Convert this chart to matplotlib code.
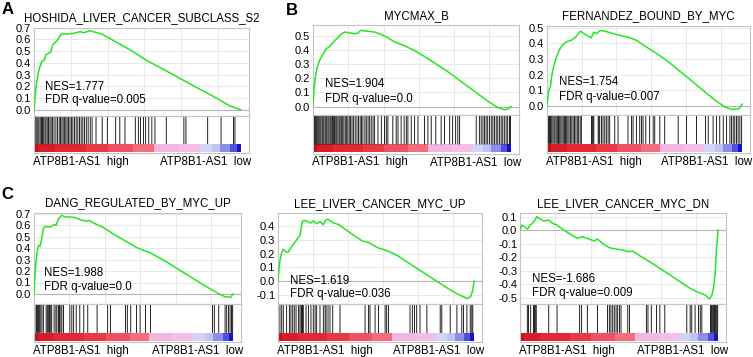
import matplotlib
matplotlib.use("Agg")
import matplotlib.pyplot as plt

plt.rcParams['font.family'] = ['Liberation Sans', 'DejaVu Sans']

# ---- data (x = fraction of ranked gene list) ----
hoshida_x = [0, 0.005, 0.013, 0.024, 0.037, 0.048, 0.058, 0.069, 0.081, 0.09, 0.10, 0.113,
             0.126, 0.134, 0.158, 0.19, 0.223, 0.239, 0.271, 0.295, 0.327, 0.384, 0.465,
             0.545, 0.626, 0.706, 0.787, 0.868, 0.948, 1.0]
hoshida_es = [0, 0.11, 0.24, 0.34, 0.41, 0.42, 0.47, 0.48, 0.49, 0.55, 0.57, 0.59,
              0.63, 0.645, 0.645, 0.65, 0.665, 0.655, 0.673, 0.66, 0.645, 0.59, 0.51,
              0.42, 0.345, 0.268, 0.19, 0.115, 0.034, 0.0]
hoshida_hits = [0.004, 0.009, 0.014, 0.019, 0.024, 0.03, 0.036, 0.041, 0.047, 0.053, 0.058,
                0.064, 0.07, 0.077, 0.083, 0.09, 0.097, 0.106, 0.114, 0.122, 0.128, 0.135,
                0.141, 0.147, 0.154, 0.16, 0.167, 0.174, 0.181, 0.188, 0.196, 0.204, 0.212,
                0.22, 0.228, 0.236, 0.244, 0.253, 0.262, 0.272, 0.281, 0.30, 0.33, 0.355,
                0.395, 0.415, 0.44, 0.49, 0.505, 0.515, 0.53, 0.54, 0.555, 0.57, 0.585,
                0.64, 0.725, 0.735, 0.84, 0.905, 0.965, 0.972]

mycmax_x = [0, 0.005, 0.012, 0.022, 0.034, 0.05, 0.067, 0.079, 0.092, 0.109, 0.126, 0.143,
            0.16, 0.185, 0.21, 0.227, 0.24, 0.269, 0.311, 0.345, 0.378, 0.412, 0.462, 0.513,
            0.563, 0.613, 0.681, 0.748, 0.815, 0.882, 0.933, 0.966, 0.983, 1.0]
mycmax_es = [0, 0.12, 0.21, 0.28, 0.33, 0.37, 0.41, 0.42, 0.44, 0.465, 0.49, 0.515,
             0.528, 0.523, 0.516, 0.52, 0.54, 0.535, 0.528, 0.51, 0.488, 0.458, 0.431, 0.396,
             0.355, 0.309, 0.247, 0.177, 0.108, 0.039, -0.007, -0.023, -0.018, 0.0]
mycmax_hits = [0.003, 0.008, 0.012, 0.017, 0.021, 0.026, 0.03, 0.035, 0.04, 0.046, 0.05,
               0.055, 0.061, 0.066, 0.07, 0.076, 0.081, 0.087, 0.092, 0.098, 0.103, 0.109,
               0.115, 0.12, 0.126, 0.132, 0.137, 0.143, 0.15, 0.156, 0.163, 0.17, 0.176,
               0.183, 0.19, 0.197, 0.205, 0.213, 0.222, 0.23, 0.238, 0.245, 0.252, 0.262,
               0.269, 0.278, 0.286, 0.294, 0.303, 0.311, 0.328, 0.345, 0.361, 0.37, 0.378,
               0.403, 0.42, 0.429, 0.445, 0.46, 0.471, 0.479, 0.496, 0.513, 0.53, 0.563,
               0.58, 0.597, 0.62, 0.647, 0.664, 0.69, 0.705, 0.72, 0.731, 0.74, 0.824, 0.84,
               0.849, 0.858, 0.866, 0.874, 0.882, 0.891, 0.9, 0.908, 0.916, 0.925, 0.933,
               0.942, 0.95, 0.958, 0.966, 0.975, 0.983, 0.992, 0.997]

fernandez_x = [0, 0.005, 0.01, 0.017, 0.024, 0.034, 0.048, 0.062, 0.079, 0.099, 0.125, 0.15,
               0.171, 0.185, 0.205, 0.227, 0.239, 0.256, 0.27, 0.296, 0.33, 0.373, 0.415,
               0.458, 0.509, 0.561, 0.612, 0.663, 0.715, 0.766, 0.817, 0.868, 0.911, 0.945,
               0.98, 0.991, 1.0]
fernandez_es = [0, 0.06, 0.10, 0.12, 0.19, 0.25, 0.31, 0.356, 0.388, 0.41, 0.42, 0.445,
                0.479, 0.466, 0.451, 0.436, 0.472, 0.462, 0.483, 0.479, 0.466, 0.451, 0.44,
                0.42, 0.377, 0.335, 0.292, 0.239, 0.186, 0.133, 0.08, 0.028, -0.008, -0.025,
                -0.021, -0.008, 0.01]
fernandez_hits = [0.003, 0.008, 0.013, 0.018, 0.024, 0.03, 0.036, 0.041, 0.047, 0.053, 0.059,
                  0.065, 0.071, 0.077, 0.083, 0.089, 0.095, 0.101, 0.107, 0.113, 0.12, 0.127,
                  0.134, 0.141, 0.148, 0.155, 0.162, 0.17, 0.176, 0.228, 0.232, 0.236, 0.24,
                  0.262, 0.266, 0.27, 0.279, 0.287, 0.296, 0.304, 0.313, 0.321, 0.347, 0.364,
                  0.415, 0.433, 0.441, 0.458, 0.475, 0.484, 0.492, 0.506, 0.526, 0.544,
                  0.552, 0.578, 0.603, 0.672, 0.715, 0.766, 0.812, 0.826, 0.851, 0.868,
                  0.885, 0.903, 0.92, 0.937, 0.945, 0.954, 0.962, 0.971, 0.979, 0.988, 0.997]

dang_x = [0, 0.003, 0.008, 0.017, 0.022, 0.03, 0.039, 0.047, 0.056, 0.073, 0.089, 0.101,
          0.111, 0.123, 0.14, 0.157, 0.182, 0.207, 0.233, 0.258, 0.275, 0.3, 0.351, 0.401,
          0.46, 0.519, 0.587, 0.654, 0.722, 0.789, 0.857, 0.924, 0.958, 0.988, 1.0]
dang_es = [0, 0.117, 0.248, 0.379, 0.423, 0.414, 0.481, 0.569, 0.589, 0.583, 0.589, 0.606,
           0.598, 0.656, 0.685, 0.671, 0.671, 0.665, 0.647, 0.636, 0.641, 0.618, 0.577, 0.519,
           0.461, 0.402, 0.356, 0.292, 0.219, 0.146, 0.073, 0.006, -0.023, -0.029, 0.0]
dang_hits = [0.005, 0.013, 0.018, 0.022, 0.027, 0.034, 0.04, 0.047, 0.061, 0.067, 0.072,
             0.078, 0.084, 0.089, 0.101, 0.11, 0.115, 0.123, 0.128, 0.135, 0.14, 0.148, 0.18,
             0.19, 0.199, 0.212, 0.23, 0.25, 0.27, 0.317, 0.37, 0.384, 0.46, 0.469, 0.486,
             0.515, 0.533, 0.56, 0.585, 0.897, 0.906, 0.928, 0.96, 0.968, 0.977, 0.985,
             0.992, 0.998]

leeup_x = [0, 0.005, 0.01, 0.017, 0.027, 0.039, 0.051, 0.061, 0.073, 0.085, 0.099, 0.112,
           0.124, 0.136, 0.15, 0.167, 0.18, 0.197, 0.214, 0.231, 0.243, 0.255, 0.277, 0.311,
           0.345, 0.388, 0.43, 0.464, 0.507, 0.558, 0.609, 0.66, 0.711, 0.762, 0.813, 0.864,
           0.906, 0.94, 0.966, 0.983, 0.993, 1.0]
leeup_es = [0, 0.09, 0.15, 0.198, 0.233, 0.214, 0.21, 0.233, 0.257, 0.281, 0.31, 0.333,
            0.436, 0.443, 0.436, 0.424, 0.44, 0.419, 0.436, 0.412, 0.448, 0.452, 0.429, 0.412,
            0.376, 0.333, 0.293, 0.281, 0.245, 0.221, 0.186, 0.138, 0.09, 0.043, -0.005,
            -0.052, -0.088, -0.112, -0.129, -0.112, -0.064, 0.0]
leeup_hits = [0.01, 0.019, 0.027, 0.044, 0.058, 0.066, 0.075, 0.083, 0.092, 0.104, 0.112,
              0.118, 0.121, 0.125, 0.129, 0.143, 0.155, 0.168, 0.18, 0.189, 0.197, 0.214,
              0.231, 0.24, 0.245, 0.255, 0.265, 0.279, 0.316, 0.444, 0.461, 0.469, 0.495,
              0.512, 0.546, 0.554, 0.563, 0.673, 0.685, 0.696, 0.707, 0.724, 0.759, 0.827,
              0.835, 0.878, 0.912, 0.937, 0.946, 0.963, 0.98, 0.988, 0.993]

leedn_x = [0, 0.009, 0.022, 0.039, 0.051, 0.063, 0.073, 0.085, 0.097, 0.119, 0.145, 0.165,
           0.187, 0.221, 0.255, 0.289, 0.315, 0.34, 0.374, 0.391, 0.417, 0.451, 0.485, 0.519,
           0.544, 0.57, 0.604, 0.655, 0.706, 0.757, 0.808, 0.859, 0.901, 0.935, 0.957, 0.969,
           0.978, 0.986, 0.991, 1.0]
leedn_es = [0, 0.037, 0.025, 0.007, 0.037, 0.049, 0.067, 0.099, 0.086, 0.067, 0.074, 0.049,
            0.037, 0.0, -0.032, -0.062, -0.049, -0.062, -0.081, -0.067, -0.099, -0.131, -0.141,
            -0.148, -0.16, -0.156, -0.19, -0.235, -0.284, -0.333, -0.383, -0.432, -0.462,
            -0.481, -0.511, -0.481, -0.42, -0.309, -0.16, 0.0]
leedn_hits = [0.003, 0.037, 0.043, 0.054, 0.068, 0.073, 0.077, 0.082, 0.145, 0.187, 0.301,
              0.311, 0.34, 0.391, 0.442, 0.451, 0.459, 0.468, 0.476, 0.485, 0.493, 0.502,
              0.51, 0.544, 0.553, 0.638, 0.646, 0.663, 0.689, 0.706, 0.731, 0.842, 0.859,
              0.867, 0.884, 0.901, 0.91, 0.918, 0.962, 0.966, 0.97, 0.974, 0.978, 0.982,
              0.986, 0.99, 0.994, 0.998]

titles = ['HOSHIDA_LIVER_CANCER_SUBCLASS_S2', 'MYCMAX_B', 'FERNANDEZ_BOUND_BY_MYC',
          'DANG_REGULATED_BY_MYC_UP', 'LEE_LIVER_CANCER_MYC_UP', 'LEE_LIVER_CANCER_MYC_DN']
nes = ['1.777', '1.904', '1.754', '1.988', '1.619', '-1.686']
fdr = ['0.005', '0.0', '0.007', '0.0', '0.036', '0.009']
high_label = 'ATP8B1-AS1  high'
low_label = 'ATP8B1-AS1  low'

# ranked-list metric colour bar (red -> pink -> blue)
cbar_edges = [0, 0.02, 0.10, 0.25, 0.36, 0.48, 0.58, 0.70, 0.80, 0.86, 0.90, 0.95, 0.98, 1.0]
cbar_colors = ['#c8101c', '#d81c28', '#e42832', '#e83a44', '#ee5262', '#f26e7c', '#f4b6de',
               '#f6bee4', '#d4d2f6', '#c2c2f2', '#8c8cea', '#5050dc', '#1a10c8']

curves = [(hoshida_x, hoshida_es, hoshida_hits), (mycmax_x, mycmax_es, mycmax_hits),
          (fernandez_x, fernandez_es, fernandez_hits), (dang_x, dang_es, dang_hits),
          (leeup_x, leeup_es, leeup_hits), (leedn_x, leedn_es, leedn_hits)]

# layout in pixels: left, right, ES top, ES bottom, hits bottom
boxes = [(34, 249, 27.5, 115.5, 153), (313, 519, 25, 115, 153.5), (547, 750, 25.5, 114.5, 153),
         (34, 241, 212.5, 303.5, 342), (278, 482, 213, 304, 342), (520, 726, 213, 303.5, 342)]
ylims = [(-0.047, 0.70), (-0.06, 0.578), (-0.057, 0.515),
         (-0.083, 0.71), (-0.168, 0.498), (-0.544, 0.126)]
yticks = [[0.0, 0.1, 0.2, 0.3, 0.4, 0.5, 0.6, 0.7], [0.0, 0.1, 0.2, 0.3, 0.4, 0.5],
          [0.0, 0.1, 0.2, 0.3, 0.4, 0.5], [0.0, 0.1, 0.2, 0.3, 0.4, 0.5, 0.6, 0.7],
          [-0.1, 0.0, 0.1, 0.2, 0.3, 0.4], [-0.5, -0.4, -0.3, -0.2, -0.1, 0.0, 0.1]]
nes_pos = [(0.05, 0.32, 0.18), (0.06, 0.34, 0.18), (0.06, 0.37, 0.2),
           (0.05, 0.33, 0.18), (0.06, 0.25, 0.11), (0.057, 0.27, 0.12)]

W, H = 753, 357
fig = plt.figure(figsize=(W / 100, H / 100), dpi=100, facecolor='white')
box_col = '#c4c4c4'
grid_col = '#e8e8e8'
vgrid = [0.178, 0.356, 0.534, 0.712, 0.89]
xmax = 1.04

for i, (xs, es, hits) in enumerate(curves):
    l, r, t, m, b = boxes[i]
    ax = fig.add_axes((l / W, 1 - m / H, (r - l) / W, (m - t) / H))
    axh = fig.add_axes((l / W, 1 - b / H, (r - l) / W, (b - m) / H))

    ax.set_xlim(0, xmax)
    ax.set_ylim(*ylims[i])
    ax.set_yticks(yticks[i])
    ax.set_yticklabels(['%.1f' % v for v in yticks[i]])
    ax.set_xticks([])
    ax.tick_params(axis='y', length=0, pad=2, labelsize=8)
    for v in yticks[i]:
        ax.axhline(v, color=grid_col, lw=0.7, zorder=0)
    for v in vgrid:
        ax.axvline(v, color=grid_col, lw=0.7, zorder=0)
    ax.axhline(0, color='#b4b4b4', lw=0.8, zorder=1)
    ax.plot(xs, es, color='#22e822', lw=1.1, zorder=3)
    for s in ax.spines.values():
        s.set_color(box_col)
        s.set_linewidth(0.8)
    ax.annotate(titles[i], xy=(0.5, 1), xycoords='axes fraction', xytext=(0, 6),
                textcoords='offset pixels', ha='center', va='baseline', fontsize=8.3)
    nx, ny1, ny2 = nes_pos[i]
    ax.text(nx, ny1, 'NES=' + nes[i], transform=ax.transAxes, fontsize=8.3, va='center')
    ax.text(nx, ny2, 'FDR q-value=' + fdr[i], transform=ax.transAxes, fontsize=8.3,
            va='center')

    # hits + colour bar
    axh.set_xlim(0, xmax)
    axh.set_ylim(0, 1)
    axh.set_xticks([])
    axh.set_yticks([])
    for s in axh.spines.values():
        s.set_color(box_col)
        s.set_linewidth(0.8)
    axh.vlines(hits, 0.237, 1, color='#111111', lw=0.65, snap=False)
    widths = [cbar_edges[k + 1] - cbar_edges[k] for k in range(len(cbar_colors))]
    axh.bar(cbar_edges[:-1], [0.211] * len(widths), width=widths, bottom=0.026,
            align='edge', color=cbar_colors, lw=0)
    axh.annotate(high_label, xy=(0, 0), xycoords='axes fraction', xytext=(-1, -9),
                 textcoords='offset pixels', ha='left', va='center', fontsize=8.3)
    axh.annotate(low_label, xy=(1, 0), xycoords='axes fraction', xytext=(2, -9),
                 textcoords='offset pixels', ha='right', va='center', fontsize=8.3)

fig.text(2 / W, 1 - 2 / H, 'A', fontsize=12, weight='bold', va='top', ha='left')
fig.text(286 / W, 1 - 3 / H, 'B', fontsize=12, weight='bold', va='top', ha='left')
fig.text(1 / W, 1 - 187 / H, 'C', fontsize=12, weight='bold', va='top', ha='left')

fig.savefig('out.png', dpi=100, facecolor='white')
